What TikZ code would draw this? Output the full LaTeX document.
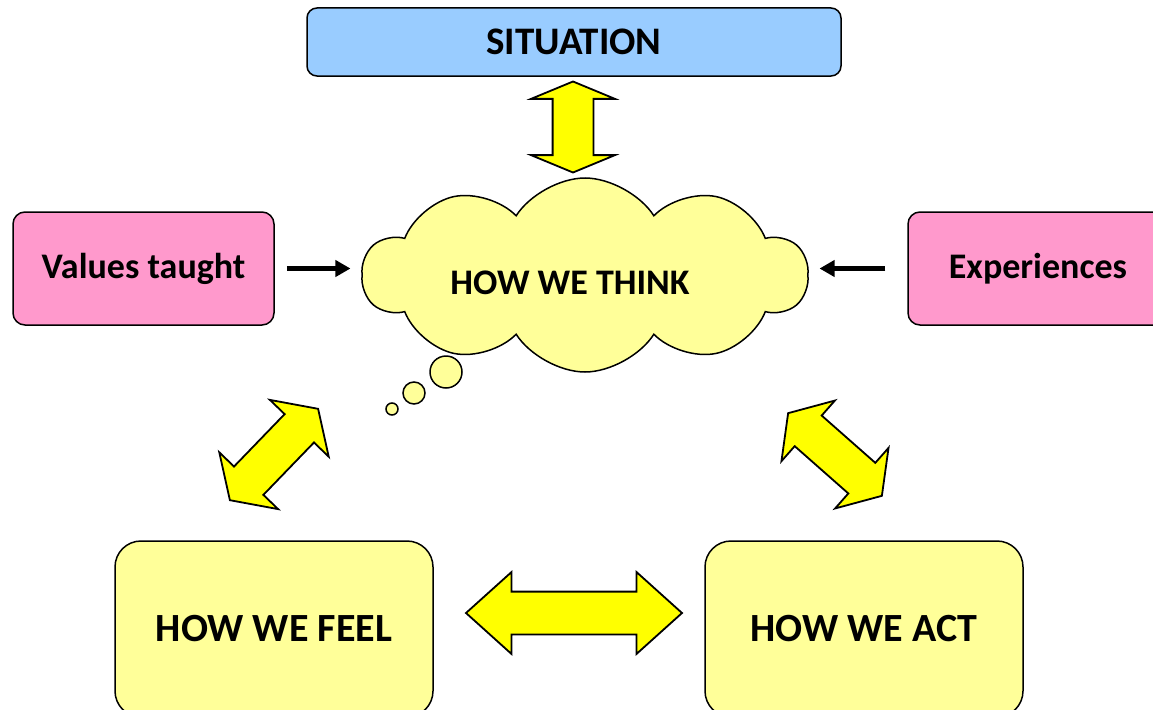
\documentclass[tikz,border=0pt]{standalone}
\usepackage{fontspec}
\setmainfont{Carlito}
\usetikzlibrary{shapes.symbols, shapes.arrows, arrows.meta, positioning, calc}
\definecolor{colSky}{RGB}{153, 204, 255}
\definecolor{colPink}{RGB}{255, 153, 204}
\definecolor{colCream}{RGB}{255, 255, 153}
\definecolor{colYellow}{RGB}{255, 255, 0}

\begin{document}
\begin{tikzpicture}[x=1pt, y=-1pt,
    every node/.style={font=\bfseries\fontsize{36}{42}\selectfont},
    box/.style={draw, line width=1.5pt, rounded corners=12pt, inner sep=0pt},
    bigbox/.style={box, fill=colCream, rounded corners=26pt, minimum width=318pt, minimum height=176pt,
                   font=\bfseries\fontsize{40}{46}\selectfont},
    fatarrow/.style={double arrow, draw, fill=colYellow, line width=1.8pt, inner xsep=0pt, inner ysep=19.5pt, outer sep=0pt},
    inarrow/.style={line width=4.5pt, -{Triangle[length=15pt, width=16pt]}}
]
    \useasboundingbox (0, 0) rectangle (1153, 709);

    % --- Situation ---
    \node[box, fill=colSky, rounded corners=10pt, minimum width=534pt, minimum height=68pt,
          font=\bfseries\fontsize{39}{44}\selectfont] (sit) at (574, 42) {SITUATION};

    % --- Cloud ---
    \node[cloud, draw, fill=colCream, line width=1.5pt, cloud puffs=10, cloud puff arc=115,
          cloud ignores aspect, minimum width=445pt, minimum height=194pt, inner sep=0pt] (think) at (585, 275) {};
    \node (thinktxt) at (570, 283) {HOW WE THINK};
    % bubbles
    \foreach \cx/\cy/\d [count=\i] in {446/372/32, 414/393/22, 392/409/12} {
        \node[circle, draw, fill=colCream, line width=1.5pt, inner sep=0pt, minimum size=\d pt] (bub\i) at (\cx, \cy) {};
    }

    % --- Side inputs ---
    \node[box, fill=colPink, minimum width=261pt, minimum height=113pt] (vals) at (143.5, 268.5) {Values taught};
    \node[box, fill=colPink, minimum width=260pt, minimum height=113pt] (exps) at (1038, 268.5) {Experiences};
    \draw[inarrow, shorten <=12pt, shorten >=11pt] (vals.east) -- (vals.east -| think.west);
    \draw[inarrow, shorten <=22pt, shorten >=11pt] (exps.west) -- (exps.west -| think.east);

    % --- Feel / Act ---
    \node[bigbox] (feel) at (274, 629) {HOW WE FEEL};
    \node[bigbox] (act) at (864, 629) {HOW WE ACT};

    % --- Fat two-way arrows ---
    \node[fatarrow, rotate=90, minimum height=91pt, minimum width=82pt,
          double arrow head extend=21.5pt, double arrow tip angle=135] (updown) at (573, 127) {};
    \node[fatarrow, inner ysep=20.5pt, minimum height=216pt, minimum width=80pt,
          double arrow head extend=19.5pt, double arrow tip angle=84] (feelact) at (574, 613) {};
    \node[fatarrow, rotate=46, minimum height=127pt, minimum width=80pt,
          double arrow head extend=20.5pt, double arrow tip angle=113] (feelthink) at (274, 454.5) {};
    \node[fatarrow, rotate=-41.4, minimum height=125pt, minimum width=79pt,
          double arrow head extend=20pt, double arrow tip angle=113] (actthink) at (835, 454.5) {};
\end{tikzpicture}
\end{document}
